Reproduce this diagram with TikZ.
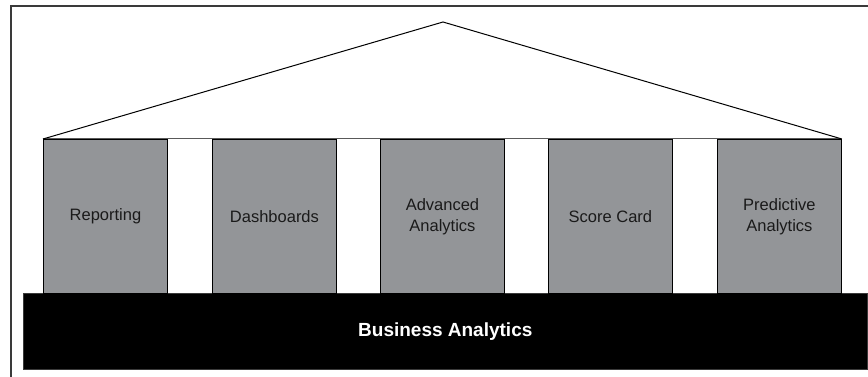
\documentclass[tikz,border=0pt]{standalone}
\usepackage{fontspec}
\setmainfont{Liberation Sans}
\definecolor{pillargray}{HTML}{939598}
\definecolor{framegray}{HTML}{3A3A3A}
\definecolor{textdark}{HTML}{1A1A1A}
\begin{document}
\begin{tikzpicture}[x=1pt,y=-1pt,
  pillar/.style={draw=black, line width=0.9pt, fill=pillargray, minimum width=124pt,
    minimum height=154pt, inner sep=0pt, anchor=north west, text=textdark,
    font=\fontsize{16.5}{21}\selectfont, align=center},
  base/.style={draw=framegray, line width=0.6pt, fill=black, minimum width=844pt,
    minimum height=76pt, inner sep=0pt, anchor=north west, text=white,
    font=\fontsize{19}{23}\selectfont\bfseries},
  roof/.style={line width=1pt, black},
  frameline/.style={line width=1.2pt, framegray}]
\useasboundingbox (0,0) rectangle (868,377);
% partial frame
\draw[frameline] (11,377) -- (11,6) -- (868,6);
% base slab
\node[base] (ba) at (23,293) {Business Analytics};
% thin line along the column tops
\draw[line width=1pt, gray!70!black] (43,139) -- (841,139);
% columns
\node[pillar] (p1) at (43,139) {Reporting};
\node[pillar] (p2) at (212,139) {Dashboards};
\node[pillar] (p3) at (380,139) {Advanced\\Analytics};
\node[pillar] (p4) at (548,139) {Score Card};
\node[pillar] (p5) at (717,139) {Predictive\\Analytics};
% roof
\coordinate (apex) at (443,22);
\draw[roof, line join=miter] (p1.north west) -- (apex) -- (p5.north east);
\end{tikzpicture}
\end{document}
